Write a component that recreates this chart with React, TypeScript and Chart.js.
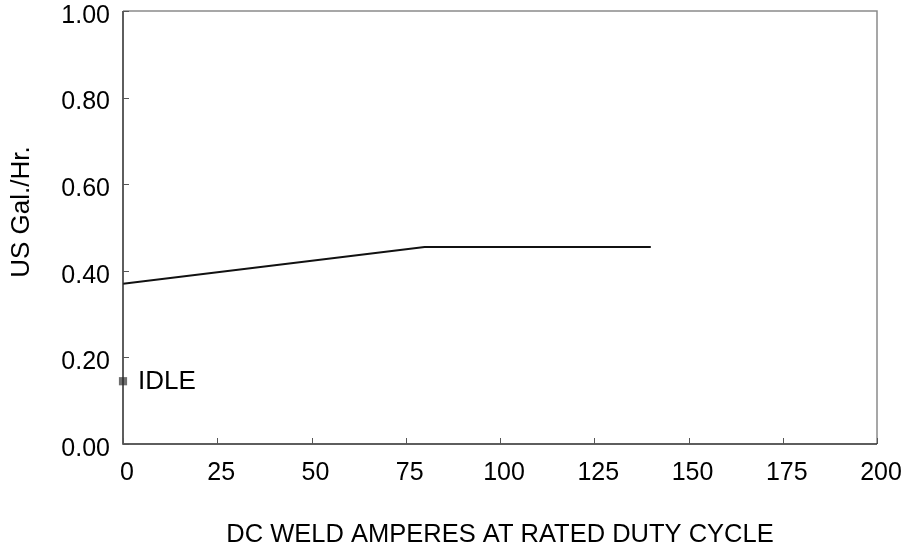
import React, { useEffect, useRef } from "react";
import { Chart, registerables } from "chart.js";

Chart.register(...registerables);

const ampsX = [0, 80, 140];
const fuelY = [0.37, 0.455, 0.455];
const idleX = [0];
const idleY = [0.145];
const idleLabel = "IDLE";
const xTitle = "DC WELD AMPERES AT RATED DUTY CYCLE";
const yTitle = "US Gal./Hr.";
const xMin = 0, xMax = 200, xStep = 25;
const yMin = 0, yMax = 1, yStep = 0.2;

const FONT = "'Liberation Sans', Arial, Helvetica, sans-serif";

const framePlugin = {
  id: "frame",
  afterDatasetsDraw(chart: any) {
    const { ctx, chartArea: a, scales } = chart;
    const xs = scales.x, ys = scales.y;
    ctx.save();
    ctx.strokeStyle = "#8a8a8a";
    ctx.lineWidth = 1.5;
    ctx.beginPath();
    ctx.moveTo(a.left, a.top);
    ctx.lineTo(a.right, a.top);
    ctx.lineTo(a.right, a.bottom);
    ctx.stroke();
    ctx.strokeStyle = "#2a2a2a";
    ctx.beginPath();
    ctx.moveTo(a.left, a.top);
    ctx.lineTo(a.left, a.bottom);
    ctx.lineTo(a.right, a.bottom);
    ctx.stroke();
    ctx.lineWidth = 1;
    ctx.strokeStyle = "#555";
    ctx.beginPath();
    ys.ticks.forEach((t: any) => {
      const y = Math.round(ys.getPixelForValue(t.value)) + 0.5;
      ctx.moveTo(a.left, y);
      ctx.lineTo(a.left + 6, y);
    });
    xs.ticks.forEach((t: any) => {
      const x = Math.round(xs.getPixelForValue(t.value)) + 0.5;
      ctx.moveTo(x, a.bottom);
      ctx.lineTo(x, a.bottom - 6);
    });
    ctx.stroke();
    ctx.fillStyle = "#000";
    ctx.font = `26px ${FONT}`;
    ctx.textAlign = "left";
    ctx.textBaseline = "middle";
    ctx.fillText(idleLabel, xs.getPixelForValue(idleX[0]) + 15, ys.getPixelForValue(idleY[0]) + 1);
    ctx.translate(22, 212);
    ctx.rotate(-Math.PI / 2);
    ctx.textAlign = "center";
    ctx.font = `26px ${FONT}`;
    ctx.fillText(yTitle, 0, 0);
    ctx.restore();
  },
};

export default function App() {
  const ref = useRef<HTMLCanvasElement>(null);
  useEffect(() => {
    if (!ref.current) return;
    const chart = new Chart(ref.current, {
      type: "scatter",
      data: {
        datasets: [
          {
            data: ampsX.map((x, i) => ({ x, y: fuelY[i] })),
            showLine: true,
            borderColor: "#111",
            borderWidth: 2,
            pointRadius: 0,
            fill: false,
          },
          {
            data: idleX.map((x, i) => ({ x, y: idleY[i] })),
            showLine: false,
            pointStyle: "rect",
            pointRadius: 5.8,
            backgroundColor: "#6e6e6e",
            borderColor: "#6e6e6e",
            borderWidth: 0,
            clip: false,
          } as any,
        ],
      },
      options: {
        animation: false,
        responsive: false,
        maintainAspectRatio: false,
        layout: { padding: { top: 11, right: 27, left: 0, bottom: 0 } },
        plugins: { legend: { display: false }, tooltip: { enabled: false } },
        scales: {
          x: {
            type: "linear",
            min: xMin,
            max: xMax,
            grid: { display: false, drawTicks: false },
            border: { display: false },
            ticks: {
              stepSize: xStep,
              padding: 14,
              labelOffset: 4,
              color: "#000",
              font: { family: FONT, size: 25 },
              maxRotation: 0,
            },
            title: {
              display: true,
              text: xTitle,
              color: "#000",
              font: { family: FONT, size: 25.5 },
              padding: { top: 0, bottom: 6 },
            },
            afterFit: (s: any) => {
              s.height = 112;
              s.paddingLeft = 0;
              s.paddingRight = 0;
            },
          },
          y: {
            type: "linear",
            min: yMin,
            max: yMax,
            grid: { display: false, drawTicks: false },
            border: { display: false },
            ticks: {
              stepSize: yStep,
              padding: 13,
              labelOffset: 5,
              color: "#000",
              font: { family: FONT, size: 25 },
              callback: (v: any) => Number(v).toFixed(2),
            },
            afterFit: (s: any) => {
              s.width = 123;
              s.paddingTop = 0;
              s.paddingBottom = 0;
            },
          },
        },
      },
      plugins: [framePlugin],
    });
    return () => chart.destroy();
  }, []);
  return (
    <div style={{ position: "absolute", left: 0, top: 0, width: 904, height: 556, background: "#fff" }}>
      <canvas ref={ref} width={904} height={556} style={{ width: 904, height: 556 }} />
    </div>
  );
}
